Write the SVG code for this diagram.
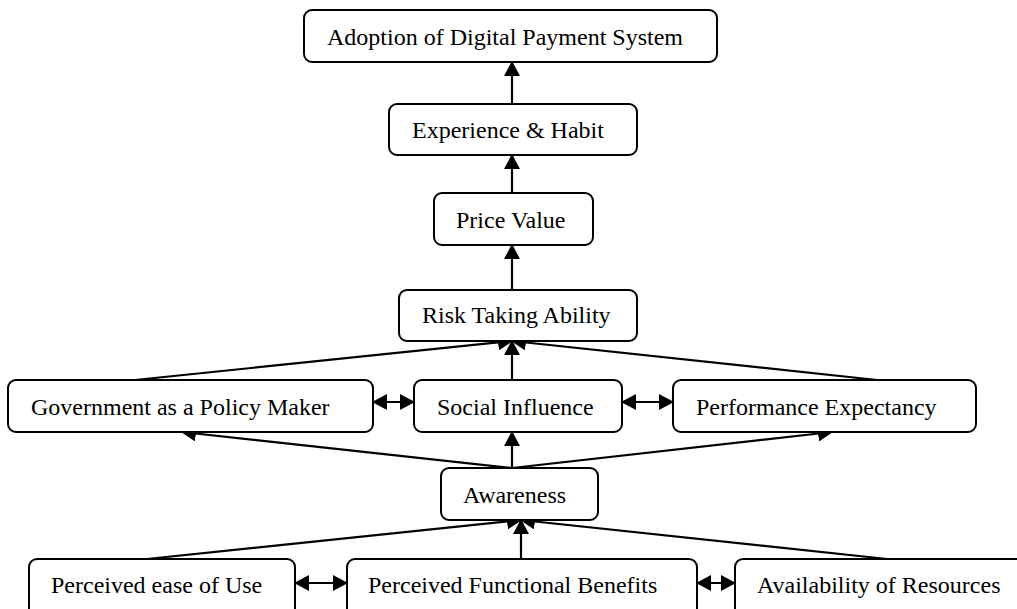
<svg xmlns="http://www.w3.org/2000/svg" width="1017" height="609" viewBox="0 0 1017 609">
<defs>
<marker id="ah" markerUnits="userSpaceOnUse" markerWidth="16" markerHeight="16" refX="14" refY="8" orient="auto-start-reverse" viewBox="0 0 16 16">
<path d="M0,0 L15,8 L0,16 z" fill="#000"/>
</marker>
<style>
.box{fill:#fff;stroke:#000;stroke-width:2}
.t{font-family:"Liberation Serif","Times New Roman",serif;font-size:24px;fill:#000}
.c{stroke:#000;stroke-width:2.2;fill:none}
.a{marker-end:url(#ah)}
.d{marker-start:url(#ah);marker-end:url(#ah)}
</style>
</defs>
<rect width="1017" height="609" fill="#fff"/>
<g id="connectors">
<line class="c a" x1="512" y1="104" x2="512" y2="62"/>
<line class="c a" x1="512" y1="193" x2="512" y2="155"/>
<line class="c a" x1="512" y1="290" x2="512" y2="245"/>
<line class="c a" x1="135" y1="380" x2="512" y2="341"/>
<line class="c a" x1="512" y1="380" x2="512" y2="341"/>
<line class="c a" x1="877" y1="380" x2="512" y2="341"/>
<line class="c d" x1="373" y1="402" x2="414" y2="402"/>
<line class="c d" x1="622" y1="402" x2="673" y2="402"/>
<line class="c a" x1="512" y1="468" x2="182" y2="432"/>
<line class="c a" x1="512" y1="468" x2="512" y2="432"/>
<line class="c a" x1="512" y1="468" x2="832" y2="432"/>
<line class="c a" x1="147" y1="559" x2="521" y2="520"/>
<line class="c a" x1="521" y1="559" x2="521" y2="520"/>
<line class="c a" x1="887" y1="559" x2="521" y2="520"/>
<line class="c d" x1="295" y1="583" x2="347" y2="583"/>
<line class="c d" x1="697" y1="583" x2="735" y2="583"/>
</g>
<g id="adoption"><rect class="box" x="304" y="10" width="413" height="52" rx="8"/><text class="t" x="327" y="45">Adoption of Digital Payment System</text></g>
<g id="experience"><rect class="box" x="389" y="104" width="248" height="51" rx="8"/><text class="t" x="412" y="138">Experience &amp; Habit</text></g>
<g id="price"><rect class="box" x="434" y="193" width="159" height="52" rx="8"/><text class="t" x="456" y="228">Price Value</text></g>
<g id="risk"><rect class="box" x="399" y="290" width="238" height="51" rx="8"/><text class="t" x="422" y="323">Risk Taking Ability</text></g>
<g id="government"><rect class="box" x="8" y="380" width="365" height="52" rx="8"/><text class="t" x="31" y="415">Government as a Policy Maker</text></g>
<g id="social"><rect class="box" x="414" y="380" width="208" height="52" rx="8"/><text class="t" x="437" y="415">Social Influence</text></g>
<g id="performance"><rect class="box" x="673" y="380" width="303" height="52" rx="8"/><text class="t" x="696" y="415">Performance Expectancy</text></g>
<g id="awareness"><rect class="box" x="441" y="468" width="157" height="52" rx="8"/><text class="t" x="463" y="503">Awareness</text></g>
<g id="ease"><rect class="box" x="29" y="559" width="266" height="70" rx="8"/><text class="t" x="51" y="593">Perceived ease of Use</text></g>
<g id="functional"><rect class="box" x="347" y="559" width="350" height="70" rx="8"/><text class="t" x="368" y="593">Perceived Functional Benefits</text></g>
<g id="resources"><rect class="box" x="735" y="559" width="320" height="70" rx="8"/><text class="t" x="757" y="593">Availability of Resources</text></g>
</svg>
